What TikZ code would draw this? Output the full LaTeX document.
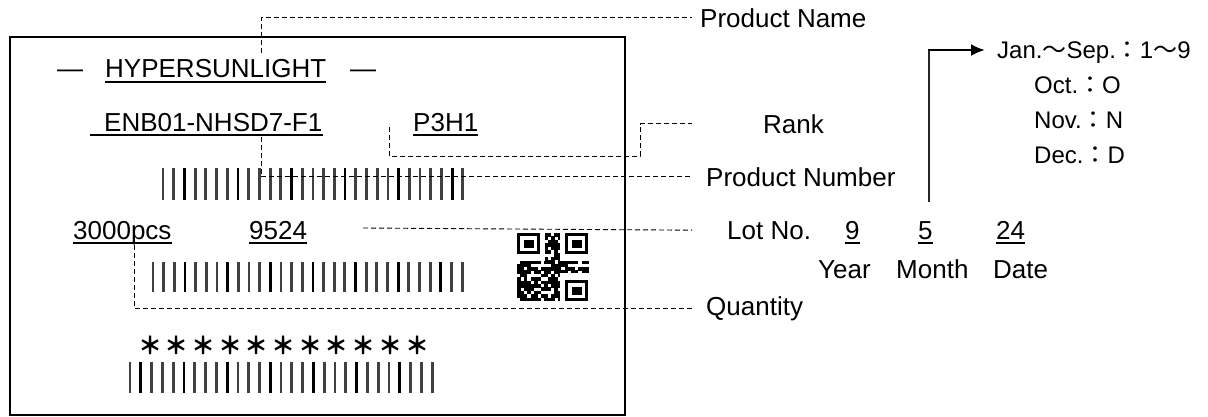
\documentclass[tikz,border=0pt]{standalone}
\usepackage{fontspec}
\setmainfont{Liberation Sans}
\newfontfamily\cjk{Noto Sans CJK JP}
\usetikzlibrary{arrows.meta}
\begin{document}
\begin{tikzpicture}[x=1pt,y=-1pt,
  lbl/.style={font=\fontsize{26}{26}\selectfont, inner sep=0pt, anchor=base west},
  mlbl/.style={font=\fontsize{24}{24}\selectfont, inner sep=0pt, anchor=base west},
  star/.style={font=\cjk\bfseries\fontsize{24}{24}\selectfont, inner sep=0pt},
  lead/.style={dash pattern=on 5pt off 3pt, line width=0.9pt},
  ul/.style={line width=1.6pt},
  bar/.style={line width=2.8pt, black!75},
  dbar/.style={line width=2.8pt, black},
]
\useasboundingbox (0,0) rectangle (1208,416);
% label frame
\draw[line width=1.8pt] (10,37) rectangle (625,415);

% texts inside label
\node[lbl] (dl) at (57,77) {—};
\node[lbl] (hyper) at (105,77) {HYPERSUNLIGHT};
\node[lbl] (dr) at (350,77) {—};
\draw[ul] ([yshift=-5pt]hyper.base west) -- ([yshift=-5pt]hyper.base east);

\node[lbl] (enb) at (104,131) {ENB01-NHSD7-F1};
\draw[ul] ([xshift=-14pt,yshift=-4pt]enb.base west) -- ([yshift=-4pt]enb.base east);
\node[lbl] (p3h1) at (413,131) {P3H1};
\draw[ul] ([yshift=-4pt]p3h1.base west) -- ([yshift=-4pt]p3h1.base east);

\node[lbl] (qty) at (73,239) {3000pcs};
\draw[ul] ([yshift=-4pt]qty.base west) -- ([yshift=-4pt]qty.base east);
\node[lbl] (lot) at (249,239) {9524};
\draw[ul] ([yshift=-4pt]lot.base west) -- ([yshift=-4pt]lot.base east);

% barcodes
\foreach \i in {0,...,28}{
  \pgfmathtruncatemacro\m{mod(\i,5)}
  \ifnum\m=2 \draw[dbar] ({163+\i*10.71},168) -- ++(0,32); \else \draw[bar] ({163+\i*10.71},168) -- ++(0,32); \fi
}
\foreach \i in {0,...,29}{
  \pgfmathtruncatemacro\m{mod(\i,4)}
  \ifnum\m=3 \draw[dbar] ({153+\i*10.66},262) -- ++(0,30); \else \draw[bar] ({153+\i*10.66},262) -- ++(0,30); \fi
}
\foreach \i in {0,...,28}{
  \pgfmathtruncatemacro\m{mod(\i,4)}
  \ifnum\m=1 \draw[dbar] ({130+\i*10.79},362) -- ++(0,31); \else \draw[bar] ({130+\i*10.79},362) -- ++(0,31); \fi
}
\foreach \i in {0,...,10}{
  \node[star] (st\i) at ({150+\i*26.7},345) {＊};
}

% QR code
\begin{scope}
\foreach \i in {0,...,20}{\foreach \j in {0,...,19}{
  \pgfmathtruncatemacro\r{mod(\i*\i*5+\j*\j*7+\i*\j*3+\i*7+\j*3,11)}
  \ifnum\r<7 \fill ({517+\i*3.4},{233+\j*3.4}) rectangle ++(3.6,3.6); \fi
}}
\fill[white] (516,232) rectangle (545,261);
\fill[white] (560,232) rectangle (589,261);
\fill[white] (560,273) rectangle (589,302);
\foreach \x/\y in {517/233, 565/233, 565/280}{
  \draw[line width=3.4pt] (\x+1.7,\y+1.7) rectangle (\x+21.3,\y+19.3);
  \fill (\x+6.5,\y+6.5) rectangle (\x+16.5,\y+14.5);
}
\end{scope}

% right-hand labels
\coordinate (endx) at (692,0);
\node[lbl] (pname) at (700,27) {Product Name};
\node[lbl] (rank) at (763,133) {Rank};
\node[lbl] (pnum) at (706,186) {Product Number};
\node[lbl] (lotno) at (727,239) {Lot No.};
\node[lbl] (quant) at (706,315) {Quantity};

\node[lbl] (yy) at (845,239) {9};
\draw[ul] ([yshift=-4pt]yy.base west) -- ([yshift=-4pt]yy.base east);
\node[lbl] (mm) at (918,239) {5};
\draw[ul] ([yshift=-4pt]mm.base west) -- ([yshift=-4pt]mm.base east);
\node[lbl] (dd) at (996,239) {24};
\draw[ul] ([yshift=-4pt]dd.base west) -- ([yshift=-4pt]dd.base east);
\node[lbl] (year) at (818,278) {Year};
\node[lbl] (month) at (896,278) {Month};
\node[lbl] (date) at (993,278) {Date};

\node[mlbl] (jan) at (997,58) {Jan.{\cjk ～}Sep.{\cjk ：}1{\cjk ～}9};
\node[mlbl] (oct) at (1034,93) {Oct.{\cjk ：}O};
\node[mlbl] (nov) at (1034,128) {Nov.{\cjk ：}N};
\node[mlbl] (dec) at (1034,163) {Dec.{\cjk ：}D};

% leader lines
\coordinate (pn0) at (261,53);
\draw[lead] (pn0) |- (pname.west -| endx);
\coordinate (rk0) at (389,127);
\coordinate (rk1) at (640,156);
\draw[lead] (rk0) |- (rk1) |- (rank.west -| endx);
\coordinate (pu0) at (261,137);
\draw[lead] (pu0) |- (pnum.west -| endx);
\coordinate (lt0) at (363,228);
\draw[lead] (lt0) -- (lotno.west -| endx);
\coordinate (qt0) at (134,245);
\draw[lead] (qt0) |- (quant.west -| endx);

% month arrow
\coordinate (m0) at (929,202);
\coordinate (m1) at (929,50);
\draw[line width=1.2pt, black!85] (m0) -- (m1);
\draw[line width=2.2pt, -{Latex[length=14pt,width=12pt]}] ([xshift=-1pt]m1) -- ([xshift=-12pt]jan.west |- m1);
\end{tikzpicture}
\end{document}
